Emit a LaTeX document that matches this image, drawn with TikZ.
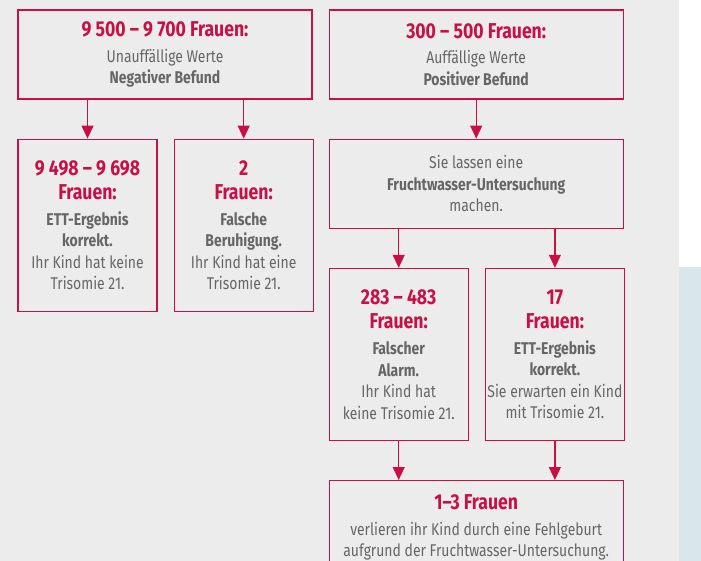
\documentclass[tikz,border=0pt]{standalone}
\usepackage{fontspec}
\setmainfont[FakeStretch=0.82]{Fira Sans}
\usepackage{tikz}
\usetikzlibrary{arrows.meta, positioning}

\definecolor{rotton}{RGB}{200,16,70}
\definecolor{textgrau}{RGB}{102,102,102}
\definecolor{hgrau}{RGB}{236,236,236}
\definecolor{hblau}{RGB}{217,230,234}

\newcommand{\zahl}[1]{{\fontsize{21.5}{25}\selectfont\bfseries\color{rotton}#1}}

\begin{document}
\begin{tikzpicture}[
    x=1pt, y=1pt,
    node distance=39pt and 16pt,
    breitbox/.style={rectangle, draw=rotton, line width=1.2pt, minimum width=294pt, minimum height=89pt, inner sep=2pt, align=center, text=textgrau, font=\fontsize{17}{21.5}\selectfont},
    hochbox/.style={breitbox, minimum width=139pt, minimum height=172pt},
    pfeil/.style={-{Triangle[length=13pt, width=12pt]}, draw=rotton, fill=rotton, line width=1.2pt}
]

% Hintergrund
\clip (0,0) rectangle (701,-561);
\fill[hgrau] (0,0) rectangle (679,-561);
\fill[white] (679,0) rectangle (701,-267);
\fill[hblau] (679,-267) rectangle (701,-561);

\node[breitbox] (negativ) at (165,-54.5) {\zahl{9 500 -- 9 700 Frauen:}\\[4pt]Unauffällige Werte\\\textbf{Negativer Befund}};
\node[breitbox, right=of negativ] (positiv) {\zahl{300 -- 500 Frauen:}\\[4pt]Auffällige Werte\\\textbf{Positiver Befund}};

\node[hochbox, below right=39pt and 0pt of negativ.south west] (korrekt) {\zahl{9 498 -- 9 698}\\[3pt]\zahl{Frauen:}\\[4pt]\textbf{ETT-Ergebnis}\\\textbf{korrekt.}\\Ihr Kind hat keine\\Trisomie 21.};
\node[hochbox, right=of korrekt] (beruhigung) {\zahl{2}\\[3pt]\zahl{Frauen:}\\[4pt]\textbf{Falsche}\\\textbf{Beruhigung.}\\Ihr Kind hat eine\\Trisomie 21.};

\node[breitbox, below=of positiv] (fwu) {Sie lassen eine\\\textbf{Fruchtwasser-Untersuchung}\\machen.};

\node[hochbox, below right=39pt and 0pt of fwu.south west] (alarm) {\zahl{283 -- 483}\\[3pt]\zahl{Frauen:}\\[4pt]\textbf{Falscher}\\\textbf{Alarm.}\\Ihr Kind hat\\keine Trisomie 21.};
\node[hochbox, right=of alarm] (trisomie) {\zahl{17}\\[3pt]\zahl{Frauen:}\\[4pt]\textbf{ETT-Ergebnis}\\\textbf{korrekt.}\\Sie erwarten ein Kind\\mit Trisomie 21.};

\node[breitbox, below right=39pt and 0pt of alarm.south west, minimum height=94pt] (fehlgeburt) {\zahl{1--3 Frauen}\\[4pt]verlieren ihr Kind durch eine Fehlgeburt\\aufgrund der Fruchtwasser-Untersuchung.};

\draw[pfeil] (negativ.south -| korrekt) -- (korrekt);
\draw[pfeil] (negativ.south -| beruhigung) -- (beruhigung);
\draw[pfeil] (positiv) -- (fwu);
\draw[pfeil] (fwu.south -| alarm) -- (alarm);
\draw[pfeil] (fwu.south -| trisomie) -- (trisomie);
\draw[pfeil] (alarm) -- (fehlgeburt.north -| alarm);
\draw[pfeil] (trisomie) -- (fehlgeburt.north -| trisomie);

\end{tikzpicture}
\end{document}
